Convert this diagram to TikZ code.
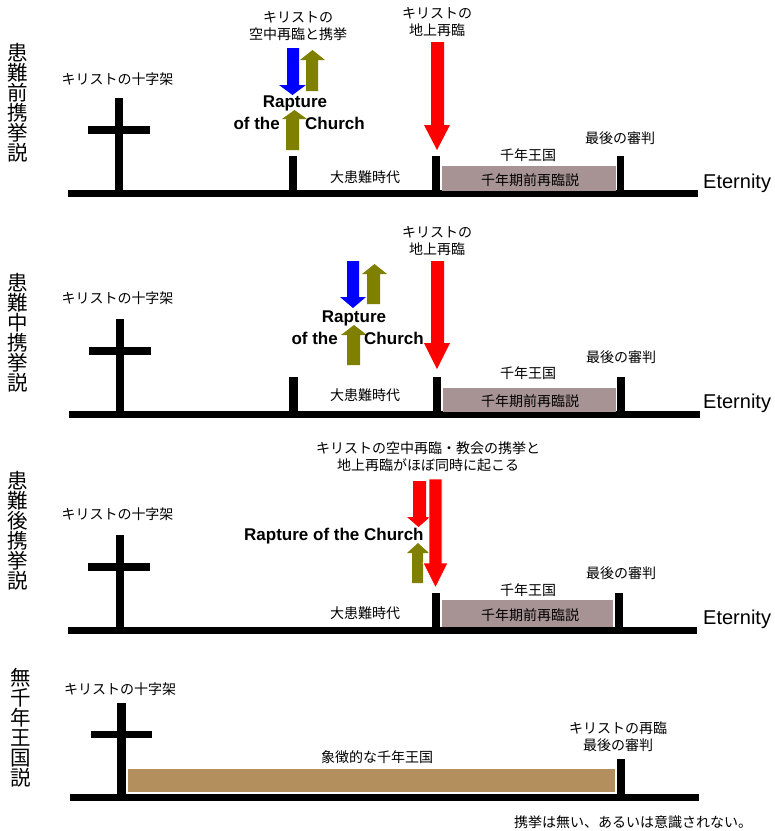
\documentclass[tikz,border=0pt]{standalone}
\usepackage{fontspec}
\setmainfont{Liberation Sans}
\newfontfamily\jpfont{Noto Sans CJK JP}
\definecolor{olivearr}{RGB}{128,128,0}
\definecolor{bluearr}{RGB}{0,0,255}
\definecolor{redarr}{RGB}{255,0,0}
\definecolor{prebox}{RGB}{167,147,147}
\definecolor{tanbox}{RGB}{178,143,93}
\newcommand\blkarrow[9][]{\fill[#2,#1] (#3,#5) -- (#3,#8) -- (#6,#8) -- ({(#6+#7)/2},#9) -- (#7,#8) -- (#4,#8) -- (#4,#5) -- cycle;}
\tikzset{
  jp/.style={font=\jpfont\fontsize{14}{17}\selectfont, inner sep=0pt, align=center},
  vlabel/.style={font=\jpfont\fontsize{20.5}{20}\selectfont, inner sep=0pt, align=center},
  rap/.style={font=\bfseries\fontsize{17}{20}\selectfont, inner sep=0pt},
  eter/.style={font=\fontsize{20}{20}\selectfont, inner sep=0pt, anchor=west},
  blk/.style={fill=black},
  prefill/.style={fill=prebox},
  tanfill/.style={fill=tanbox}
}
\begin{document}
\begin{tikzpicture}[x=1pt,y=-1pt]
\useasboundingbox[fill=white] (0,0) rectangle (775,831);
% ---------- Panel 1 ----------
\node[vlabel] (l1) at (18,103) {患\\難\\前\\携\\挙\\説};
\node[jp] (c1) at (117.5,79) {キリストの十字架};
\fill[blk] (115,98) rectangle (123,194);
\fill[blk] (88,126) rectangle (150,134);
\fill[blk] (68,190) rectangle (698,197);
\fill[blk] (289,156) rectangle (297,192);
\blkarrow{bluearr}{287}{299}{48}{279}{306}{85}{95}
\blkarrow{olivearr}{306}{318}{91}{300}{325}{60}{50}
\blkarrow{olivearr}{286}{299}{150}{282}{307}{119}{110}
\node[rap] (r1a) at (295,103) {Rapture};
\node[rap,anchor=east] (r1b) at (280,123) {of the};
\node[rap,anchor=west] (r1c) at (305,123) {Church};
\node[jp] (t1a) at (298,26.5) {キリストの\\空中再臨と携挙};
\blkarrow{redarr}{431}{444}{42}{424}{450}{125}{150}
\node[jp] (t1b) at (437,22.5) {キリストの\\地上再臨};
\fill[blk] (432,156) rectangle (440,192);
\fill[prefill] (442,166) rectangle (616,191);
\node[jp] (m1) at (530,180) {千年期前再臨説};
\node[jp] (k1) at (528,155) {千年王国};
\fill[blk] (617,156) rectangle (624,192);
\node[jp] (j1) at (620,138) {最後の審判};
\node[jp] (g1) at (365,177) {大患難時代};
\node[eter] (e1) at (703,183) {Eternity};
% ---------- Panel 2 ----------
\node[vlabel] (l2) at (18,333) {患\\難\\中\\携\\挙\\説};
\node[jp] (c2) at (117.5,298) {キリストの十字架};
\fill[blk] (116,319) rectangle (124,415);
\fill[blk] (89,347) rectangle (151,355);
\fill[blk] (69,411) rectangle (700,418);
\fill[blk] (289,377) rectangle (298,413);
\blkarrow{bluearr}{347}{359}{261}{340}{366}{297}{308}
\blkarrow{olivearr}{367}{380}{304}{362}{387}{274}{264}
\blkarrow{olivearr}{347}{360}{365}{341}{367}{335}{325}
\node[rap] (r2a) at (354,318) {Rapture};
\node[rap,anchor=east] (r2b) at (338,338) {of the};
\node[rap,anchor=west] (r2c) at (364,338) {Church};
\blkarrow{redarr}{431}{444}{261}{424}{450}{343}{369}
\node[jp] (t2b) at (437,241) {キリストの\\地上再臨};
\fill[blk] (433,377) rectangle (441,413);
\fill[prefill] (443,388) rectangle (616,412);
\node[jp] (m2) at (530,401) {千年期前再臨説};
\node[jp] (k2) at (528,373) {千年王国};
\fill[blk] (617,377) rectangle (625,413);
\node[jp] (j2) at (621,357) {最後の審判};
\node[jp] (g2) at (365,395) {大患難時代};
\node[eter] (e2) at (703,403) {Eternity};
% ---------- Panel 3 ----------
\node[vlabel] (l3) at (18,531) {患\\難\\後\\携\\挙\\説};
\node[jp] (c3) at (117.5,514) {キリストの十字架};
\fill[blk] (116,535) rectangle (124,630);
\fill[blk] (88,563) rectangle (150,571);
\fill[blk] (68,627) rectangle (697,634);
\node[jp] (t3) at (428,457) {キリストの空中再臨・教会の携挙と\\地上再臨がほぼ同時に起こる};
\node[rap,anchor=west] (r3) at (244,536) {Rapture of the Church};
\blkarrow{redarr}{413}{426}{481}{407}{430}{517}{527}
\blkarrow{olivearr}{412}{423}{583}{407}{429}{553}{543}
\blkarrow[draw=white,line width=0.8pt]{redarr}{429}{442}{479}{423}{448}{563}{588}
\fill[blk] (432,593) rectangle (440,629);
\fill[prefill] (442,600) rectangle (613,627);
\node[jp] (m3) at (530,615) {千年期前再臨説};
\node[jp] (k3) at (528,590) {千年王国};
\fill[blk] (615,593) rectangle (623,629);
\node[jp] (j3) at (621,573) {最後の審判};
\node[jp] (g3) at (365,613) {大患難時代};
\node[eter] (e3) at (703,619) {Eternity};
% ---------- Panel 4 ----------
\node[vlabel] (l4) at (21,728) {無\\千\\年\\王\\国\\説};
\node[jp] (c4) at (120,689) {キリストの十字架};
\fill[blk] (117,703) rectangle (126,797);
\fill[blk] (91,731) rectangle (152,738);
\fill[blk] (70,794) rectangle (699,801);
\fill[tanfill] (128,769) rectangle (615,792);
\node[jp] (s4) at (377,757) {象徴的な千年王国};
\fill[blk] (617,759) rectangle (625,797);
\node[jp] (t4) at (618,737) {キリストの再臨\\最後の審判};
\node[jp,anchor=west] (f4) at (514,822) {携挙は無い、あるいは意識されない。};
\end{tikzpicture}
\end{document}
